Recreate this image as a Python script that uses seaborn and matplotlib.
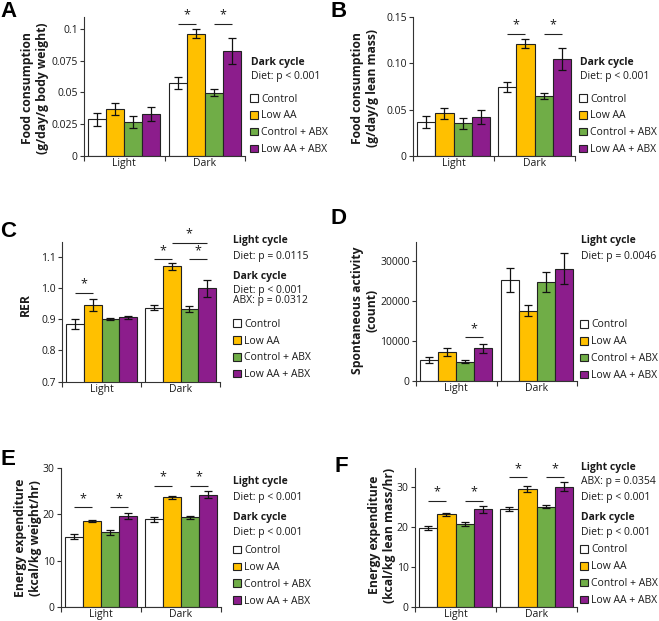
import matplotlib
matplotlib.use("Agg")
import matplotlib.pyplot as plt
import seaborn as sns
import pandas as pd
import numpy as np
from matplotlib.patches import Patch

# ---------------- data ----------------
groups = ["Control", "Low AA", "Control + ABX", "Low AA + ABX"]
cycles = ["Light", "Dark"]
colors = ["#FFFFFF", "#FFC000", "#70AD47", "#8C1D8C"]

# A: food consumption (g/day/g body weight)
A_light = [0.029, 0.037, 0.027, 0.033]
A_light_err = [0.005, 0.0047, 0.0047, 0.0057]
A_dark = [0.0575, 0.0963, 0.0498, 0.0829]
A_dark_err = [0.0045, 0.0035, 0.0027, 0.0102]
A_ticks = [0, 0.025, 0.05, 0.075, 0.1]
A_ticklabels = ["0", "0.025", "0.05", "0.075", "0.1"]

# B: food consumption (g/day/g lean mass)
B_light = [0.037, 0.046, 0.0353, 0.0418]
B_light_err = [0.0065, 0.006, 0.006, 0.0078]
B_dark = [0.0745, 0.1212, 0.0651, 0.1043]
B_dark_err = [0.0054, 0.0047, 0.0032, 0.012]
B_ticks = [0, 0.05, 0.10, 0.15]
B_ticklabels = ["0", "0.05", "0.10", "0.15"]

# C: RER
C_light = [0.884, 0.945, 0.900, 0.906]
C_light_err = [0.016, 0.02, 0.003, 0.005]
C_dark = [0.937, 1.069, 0.932, 0.999]
C_dark_err = [0.008, 0.01, 0.01, 0.028]
C_ticks = [0.7, 0.8, 0.9, 1.0, 1.1]
C_ticklabels = ["0.7", "0.8", "0.9", "1.0", "1.1"]

# D: spontaneous activity (count)
D_light = [5300, 7250, 4830, 8170]
D_light_err = [800, 1100, 400, 1150]
D_dark = [25250, 17580, 24670, 28000]
D_dark_err = [3000, 1330, 2500, 3880]
D_ticks = [0, 10000, 20000, 30000]
D_ticklabels = ["0", "10000", "20000", "30000"]

# E: energy expenditure (kcal/kg weight/hr)
E_light = [15.18, 18.6, 16.1, 19.6]
E_light_err = [0.54, 0.2, 0.47, 0.68]
E_dark = [18.9, 23.6, 19.3, 24.2]
E_dark_err = [0.5, 0.4, 0.3, 0.8]
E_ticks = [0, 10, 20, 30]
E_ticklabels = ["0", "10", "20", "30"]

# F: energy expenditure (kcal/kg lean mass/hr)
F_light = [19.75, 23.25, 20.8, 24.5]
F_light_err = [0.54, 0.45, 0.45, 0.83]
F_dark = [24.6, 29.6, 25.2, 30.2]
F_dark_err = [0.5, 0.8, 0.3, 1.1]
F_ticks = [0, 10, 20, 30]
F_ticklabels = ["0", "10", "20", "30"]

# ---------------- style ----------------
sns.set_style("white")
plt.rcParams["font.family"] = ["Open Sans", "DejaVu Sans"]
plt.rcParams["axes.linewidth"] = 0.8

W, H = 659, 621
fig = plt.figure(figsize=(W / 100, H / 100), dpi=100)
TXT = "#1a1a1a"
FS = 7.5


def fx(x):
    return x / W


def fy(y):
    return 1 - y / H


def add_ax(l, t, r, b):
    return fig.add_axes([l / W, 1 - b / H, (r - l) / W, (b - t) / H])


def panel(ax, light, light_err, dark, dark_err, ylim, ticks, ticklabels, sigs):
    df = pd.DataFrame({
        "cycle": [c for c in cycles for _ in groups],
        "group": groups * 2,
        "value": list(light) + list(dark),
    })
    errs = [light_err, dark_err]
    sns.barplot(data=df, x="cycle", y="value", hue="group", order=cycles,
                hue_order=groups, palette=colors, saturation=1, width=0.9,
                gap=0, edgecolor="#222222", linewidth=0.8, errorbar=None,
                legend=False, ax=ax)
    bar_conts = list(ax.containers)
    centers = {}
    for h, cont in enumerate(bar_conts):
        for c, bar in enumerate(cont):
            x = bar.get_x() + bar.get_width() / 2
            y = bar.get_height()
            centers[(c, h)] = x
            ax.errorbar(x, y, yerr=errs[c][h], color="#111111", lw=0.9,
                        capsize=2.6, capthick=0.9, zorder=5)
    for c, h1, h2, y in sigs:
        ax.plot([centers[(c, h1)], centers[(c, h2)]], [y, y], color="#222222",
                lw=0.8, clip_on=False, solid_capstyle="butt")
        ax.annotate("*", ((centers[(c, h1)] + centers[(c, h2)]) / 2, y),
                    xytext=(0, 1.6), textcoords="offset points", ha="center",
                    va="bottom", fontsize=9, color=TXT, annotation_clip=False)
    ax.set_xlim(-0.5, 1.5)
    ax.set_ylim(*ylim)
    ax.set_yticks(ticks, ticklabels)
    ax.set_xticks([0, 1], cycles)
    ax.set_xticks([-0.5, 0.5, 1.5], minor=True)
    ax.set_xlabel("")
    ax.set_ylabel("")
    for s in ["top", "right"]:
        ax.spines[s].set_visible(False)
    for s in ["left", "bottom"]:
        ax.spines[s].set_color("#333333")
        ax.spines[s].set_linewidth(0.8)
    ax.tick_params(axis="y", length=3, width=0.8, labelsize=FS, pad=1.5,
                   colors="#333333", labelcolor=TXT, left=True)
    ax.tick_params(axis="x", which="major", length=0, labelsize=FS, pad=1.5,
                   labelcolor=TXT, bottom=True)
    ax.tick_params(axis="x", which="minor", length=3.5, width=0.8,
                   colors="#333333", direction="out", bottom=True)
    ax.set_facecolor("none")


def stats(x, lines):
    for y, s, bold in lines:
        fig.text(fx(x), fy(y), s, ha="left", va="center", fontsize=FS,
                 fontweight="bold" if bold else "normal", color=TXT)


def legend(x, ytop):
    handles = [Patch(facecolor=c, edgecolor="#222222", linewidth=0.8) for c in colors]
    fig.legend(handles, groups, loc="upper left", bbox_to_anchor=(fx(x), fy(ytop)),
               frameon=False, fontsize=FS, handlelength=0.75, handleheight=0.75,
               handletextpad=0.3, labelspacing=0.56, borderpad=0, borderaxespad=0,
               labelcolor=TXT)


def letter(x, y, s):
    fig.text(fx(x), fy(y), s, ha="left", va="top", fontsize=16,
             fontweight="bold", family="Liberation Sans", color="black")


def ylab(x, y, s):
    fig.text(fx(x), fy(y), s, ha="center", va="center", rotation=90,
             fontsize=8.7, fontweight="bold", color=TXT, linespacing=1.15)


# ---------------- panels ----------------
axA = add_ax(84, 17, 245, 156)
panel(axA, A_light, A_light_err, A_dark, A_dark_err, (0, 0.1094), A_ticks,
      A_ticklabels, [(1, 0, 1, 0.104), (1, 2, 3, 0.104)])
axB = add_ax(413, 17, 575, 156)
panel(axB, B_light, B_light_err, B_dark, B_dark_err, (0, 0.15), B_ticks,
      B_ticklabels, [(1, 0, 1, 0.1317), (1, 2, 3, 0.1317)])
axC = add_ax(62, 241.7, 220, 381.7)
panel(axC, C_light, C_light_err, C_dark, C_dark_err, (0.7, 1.148), C_ticks,
      C_ticklabels, [(0, 0, 1, 0.985), (1, 0, 1, 1.092), (1, 2, 3, 1.092),
                     (1, 1, 3, 1.145)])
axD = add_ax(416, 241.7, 577, 381)
panel(axD, D_light, D_light_err, D_dark, D_dark_err, (0, 34800), D_ticks,
      D_ticklabels, [(0, 2, 3, 10900)])
axE = add_ax(61, 467.7, 221, 607.3)
panel(axE, E_light, E_light_err, E_dark, E_dark_err, (0, 30), E_ticks,
      E_ticklabels, [(0, 0, 1, 21.5), (0, 2, 3, 21.5), (1, 0, 1, 26.1),
                     (1, 2, 3, 26.1)])
axF = add_ax(415, 468.3, 577, 607.3)
panel(axF, F_light, F_light_err, F_dark, F_dark_err, (0, 34.75), F_ticks,
      F_ticklabels, [(0, 0, 1, 26.6), (0, 2, 3, 26.6), (1, 0, 1, 32.5),
                     (1, 2, 3, 32.5)])

# letters
letter(0, 1, "A")
letter(330, 1, "B")
letter(0, 221, "C")
letter(330, 208, "D")
letter(0, 449, "E")
letter(334, 456, "F")

# y labels
ylab(35, 88, "Food consumption\n(g/day/g body weight)")
ylab(365, 88, "Food consumption\n(g/day/g lean mass)")
ylab(25, 305, "RER")
ylab(365, 310, "Spontaneous activity\n(count)")
ylab(28, 538, "Energy expenditure\n(kcal/kg weight/hr)")
ylab(382, 535, "Energy expenditure\n(kcal/kg lean mass/hr)")

# stats text
stats(251, [(62, "Dark cycle", True), (77, "Diet: p < 0.001", False)])
stats(580, [(62, "Dark cycle", True), (77, "Diet: p < 0.001", False)])
stats(233, [(241, "Light cycle", True), (256.7, "Diet: p = 0.0115", False),
            (276, "Dark cycle", True), (290.7, "Diet: p < 0.001", False),
            (300.5, "ABX: p = 0.0312", False)])
stats(581, [(241, "Light cycle", True), (256, "Diet: p = 0.0046", False)])
stats(233, [(481.7, "Light cycle", True), (497.3, "Diet: p < 0.001", False),
            (517.3, "Dark cycle", True), (532.3, "Diet: p < 0.001", False)])
stats(581, [(467.3, "Light cycle", True), (481.7, "ABX: p = 0.0354", False),
            (497.3, "Diet: p < 0.001", False), (517.3, "Dark cycle", True),
            (532.3, "Diet: p < 0.001", False)])

# legends (top edge in px)
legend(250, 93.5)
legend(579, 93.5)
legend(233, 318.8)
legend(580, 319.5)
legend(233, 545.2)
legend(580, 544.5)

fig.savefig("out.png", dpi=100)
